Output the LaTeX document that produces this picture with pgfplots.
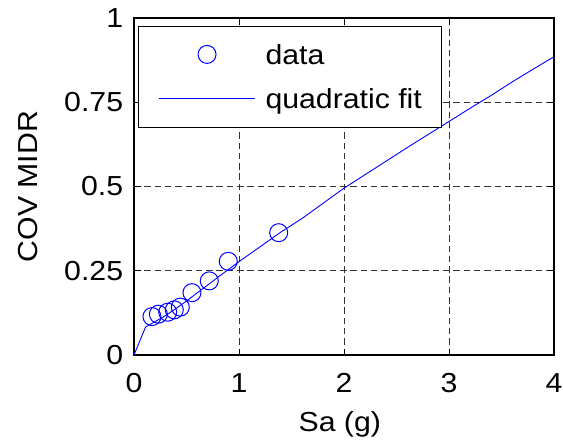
\documentclass[border=0pt]{standalone}
\usepackage{fontspec}
\setmainfont{Liberation Sans}[FakeStretch=1.1]
\usepackage{pgfplots}
\pgfplotsset{compat=1.18}
\pgfplotsset{
  dataleg/.style={legend image code/.code={\draw[##1] plot coordinates {(48pt,10.5pt)};}},
  lineleg/.style={legend image code/.code={\draw[##1] (0pt,10.5pt) -- (96pt,10.5pt);}},
}
\begin{document}
\fontsize{27.5}{33}\selectfont
\begin{tikzpicture}
\begin{axis}[
  name=ax,
  scale only axis,
  width=420pt, height=337pt,
  xmin=0, xmax=4, ymin=0, ymax=1,
  xtick={0,1,2,3,4},
  ytick={0,0.25,0.5,0.75,1},
  xticklabels={\mbox{0},\mbox{1},\mbox{2},\mbox{3},\mbox{4}},
  yticklabels={\mbox{0},\mbox{0.25},\mbox{0.5},\mbox{0.75},\mbox{1}},
  /pgf/number format/assume math mode=true,
  tick align=inside,
  major tick length=6.5pt,
  tick style={black, line width=0.9pt},
  axis line style={black, line width=1.3pt},
  grid=major,
  major grid style={black!80, line width=0.8pt, dash pattern=on 6.5pt off 3.8pt},
  xticklabel style={anchor=base, inner sep=0pt, yshift=-37.7pt},
  yticklabel style={anchor=east, inner sep=0pt, xshift=-10.7pt},
  xlabel={Sa (g)},
  ylabel={COV MIDR},
  xlabel style={at={(axis description cs:0.49,-0.2276)}, anchor=base, inner sep=0pt},
  ylabel style={at={(axis description cs:-0.2286,0.5)}, anchor=base, inner sep=0pt},
  legend cell align=left,
  legend style={at={(axis description cs:0,1)}, anchor=north west, xshift=4.3pt, yshift=-8pt,
    draw=black, line width=1.2pt, fill=white,
    inner xsep=19.7pt, inner ysep=18.3pt, row sep=24pt,
    /tikz/every odd column/.append style={column sep=10pt},
    nodes={anchor=base west, inner sep=0pt, text height=20pt, text depth=0pt}},
]
\addplot[only marks, mark=o, color=blue, mark size=9pt, mark options={line width=1pt}, dataleg]
  coordinates {
  (0.171,0.114) (0.232,0.121) (0.321,0.127) (0.384,0.134) (0.441,0.142)
  (0.552,0.185) (0.717,0.220) (0.898,0.278) (1.378,0.363)
  };
\addlegendentry{data}
\addplot[color=blue, line width=0.9pt, mark=none, lineleg]
  coordinates {
  (0,0) (0.11,0.083) (0.2,0.099) (0.3,0.117) (0.4,0.138) (0.5,0.16)
  (0.6,0.184) (0.7,0.207) (0.8,0.231) (0.9,0.254) (1.0,0.277)
  (1.2,0.321) (1.4,0.365) (1.6,0.405) (1.8,0.45) (2.0,0.495)
  (2.2,0.535) (2.4,0.575) (2.6,0.615) (2.8,0.654) (3.0,0.693)
  (3.2,0.732) (3.4,0.77) (3.6,0.81) (3.8,0.848) (4.0,0.885)
  };
\addlegendentry{quadratic fit}
\end{axis}
\pgfresetboundingbox
\path[use as bounding box] ([xshift=-134pt,yshift=-85pt]ax.south west) rectangle ([xshift=9pt,yshift=18pt]ax.north east);
\end{tikzpicture}
\end{document}
